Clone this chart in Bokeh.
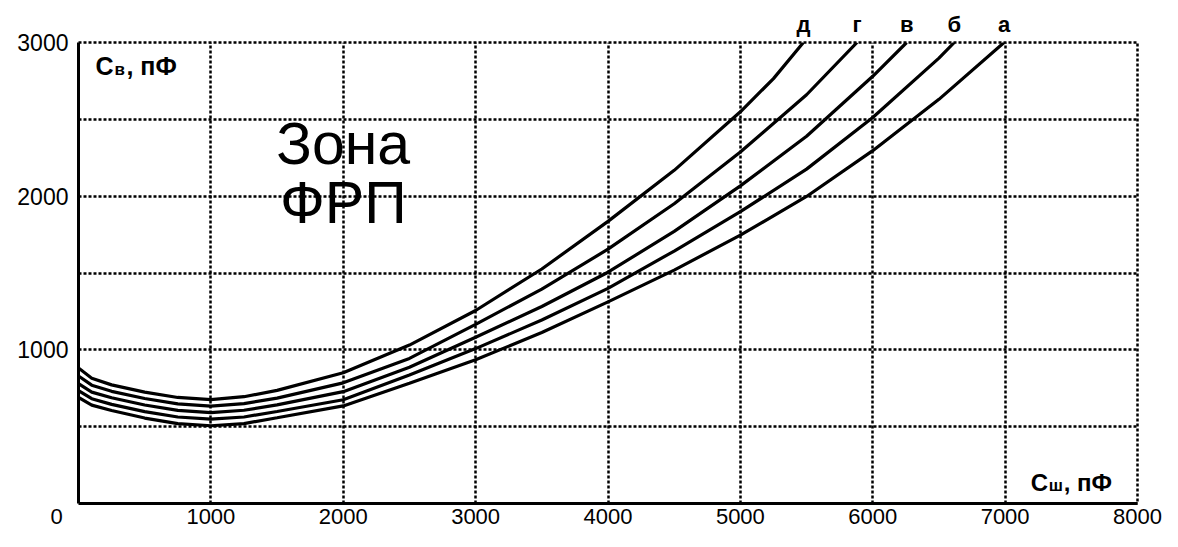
from bokeh.plotting import figure
from bokeh.models import Range1d, FixedTicker, Label, LinearAxis
from bokeh.embed import file_html
from bokeh.resources import INLINE

# ---- data ----
series_names = ["а", "б", "в", "г", "д"]

x_a = [0, 100, 250, 500, 750, 1000, 1250, 1500, 2000, 2500, 3000, 3500, 4000, 4500, 5000, 5500, 6000, 6500, 6992]
y_a = [690, 640, 605, 556, 520, 506, 520, 558, 635, 782, 935, 1113, 1312, 1519, 1746, 1998, 2296, 2630, 3000]

x_b = [0, 100, 250, 500, 750, 1000, 1250, 1500, 2000, 2500, 3000, 3500, 4000, 4500, 5000, 5500, 6000, 6500, 6616]
y_b = [735, 682, 645, 598, 563, 549, 563, 599, 675, 836, 1008, 1194, 1400, 1643, 1899, 2176, 2512, 2898, 3000]

x_v = [0, 100, 250, 500, 750, 1000, 1250, 1500, 2000, 2500, 3000, 3500, 4000, 4500, 5000, 5500, 6000, 6256]
y_v = [780, 725, 688, 641, 606, 592, 607, 642, 728, 887, 1082, 1282, 1505, 1771, 2067, 2390, 2780, 3000]

x_g = [0, 100, 250, 500, 750, 1000, 1250, 1500, 2000, 2500, 3000, 3500, 4000, 4500, 5000, 5500, 5881]
y_g = [830, 770, 730, 683, 648, 634, 650, 686, 785, 944, 1166, 1395, 1655, 1951, 2287, 2660, 3000]

x_d = [0, 100, 250, 500, 750, 1000, 1250, 1500, 2000, 2500, 3000, 3500, 4000, 4500, 5000, 5250, 5476]
y_d = [882, 815, 772, 725, 690, 676, 695, 736, 851, 1031, 1256, 1526, 1836, 2168, 2549, 2765, 3000]

x_ticks = [0, 1000, 2000, 3000, 4000, 5000, 6000, 7000, 8000]
x_tick_labels = ["0", "1000", "2000", "3000", "4000", "5000", "6000", "7000", "8000"]
y_ticks = [1000, 2000, 3000]
y_tick_labels = ["1000", "2000", "3000"]
x_grid = [1000, 2000, 3000, 4000, 5000, 6000, 7000]
y_grid = [500, 1000, 1500, 2000, 2500]

FONT = "Liberation Sans"
EMSP = "\u2003"

p = figure(width=1162, height=531,
           x_range=Range1d(0, 8000), y_range=Range1d(0, 3000),
           output_backend="svg", toolbar_location=None,
           min_border_left=78, min_border_right=25,
           min_border_top=42, min_border_bottom=25)

p.background_fill_color = "white"
p.border_fill_color = "white"
p.outline_line_color = "black"
p.outline_line_width = 2.5
p.outline_line_dash = "3 2"

# grids
p.xgrid.ticker = FixedTicker(ticks=x_grid)
p.ygrid.ticker = FixedTicker(ticks=y_grid)
for g in (p.xgrid, p.ygrid):
    g.grid_line_color = "black"
    g.grid_line_width = 2.5
    g.grid_line_dash = "3 2"

# axes
p.xaxis.ticker = FixedTicker(ticks=x_ticks)
# the origin label sits left of the corner, as in the original
x_over = {t: l for t, l in zip(x_ticks, x_tick_labels)}
x_over[x_ticks[0]] = x_tick_labels[0] + EMSP + EMSP
p.xaxis.major_label_overrides = x_over
p.yaxis.ticker = FixedTicker(ticks=y_ticks)
p.yaxis.major_label_overrides = {t: l for t, l in zip(y_ticks, y_tick_labels)}
for ax in (p.xaxis, p.yaxis):
    ax.axis_line_color = "black"
    ax.axis_line_width = 3
    ax.major_tick_line_color = None
    ax.minor_tick_line_color = None
    ax.major_tick_out = 0
    ax.major_tick_in = 0
    ax.minor_tick_out = 0
    ax.minor_tick_in = 0
    ax.major_label_text_font = FONT
    ax.major_label_text_font_size = "22px"
    ax.major_label_text_color = "black"
p.xaxis.major_label_standoff = 0
p.yaxis.major_label_standoff = 10
p.yaxis.major_label_text_font_size = "23px"

# curves
for xs, ys in [(x_a, y_a), (x_b, y_b), (x_v, y_v), (x_g, y_g), (x_d, y_d)]:
    p.line(xs, ys, line_width=3.2, line_color="black")

# series names above the curve ends (an axis on top)
ends = [x_a[-1], x_b[-1], x_v[-1], x_g[-1], x_d[-1]]
top = LinearAxis(ticker=FixedTicker(ticks=ends),
                 major_label_overrides={e: n for e, n in zip(ends, series_names)})
top.axis_line_color = None
top.major_tick_line_color = None
top.minor_tick_line_color = None
top.major_tick_out = 0
top.major_tick_in = 0
top.minor_tick_out = 0
top.minor_tick_in = 0
top.major_label_text_font = FONT
top.major_label_text_font_style = "bold"
top.major_label_text_font_size = "22px"
top.major_label_text_color = "black"
top.major_label_standoff = 6
p.add_layout(top, "above")

# axis titles (inside the frame)
def title_parts(x, y, main, sub, rest, size, sub_dx, rest_dx, sub_dy):
    kw = dict(text_font=FONT, text_font_style="bold", text_color="black",
              text_align="left", text_baseline="alphabetic")
    p.add_layout(Label(x=x, y=y, text=main, text_font_size=size, **kw))
    p.add_layout(Label(x=x, y=y, text=sub, text_font_size="17px",
                       x_offset=sub_dx, y_offset=sub_dy, **kw))
    p.add_layout(Label(x=x, y=y, text=rest, text_font_size=size, x_offset=rest_dx, **kw))

title_parts(128, 2844, "С", "в", ", пФ", "25px", 19, 31, -3)
title_parts(7193, 135, "С", "ш", ", пФ", "24px", 18, 33, -3)

# zone text
for t, yy in [("Зона", 2342), ("ФРП", 1955)]:
    p.add_layout(Label(x=2000, y=yy, text=t, text_font=FONT, text_font_size="59px",
                       text_color="black", text_align="center", text_baseline="alphabetic"))

open("out.html", "w").write(file_html(p, INLINE))
